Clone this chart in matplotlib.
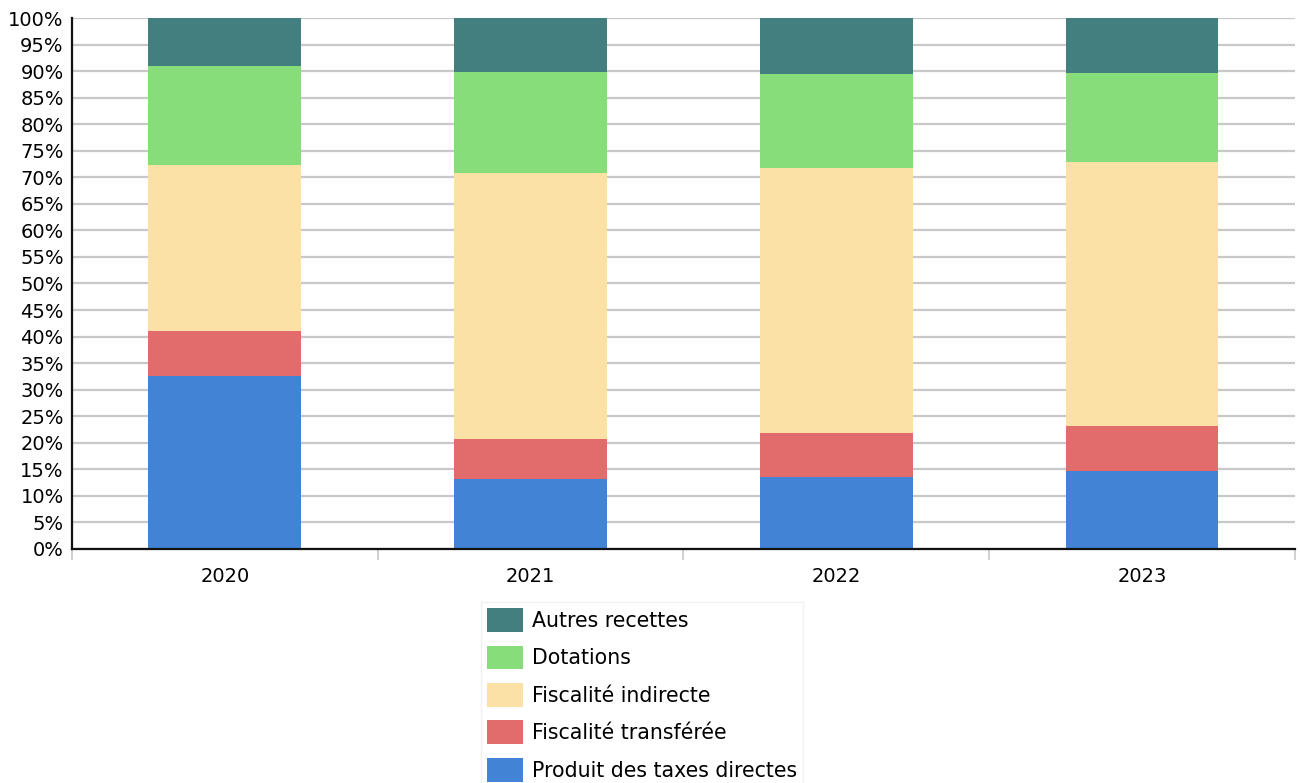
import matplotlib
matplotlib.use("Agg")
import matplotlib.pyplot as plt
import numpy as np
from matplotlib.ticker import FixedLocator

years = ["2020", "2021", "2022", "2023"]
produit_taxes_directes = [32.5, 13.1, 13.6, 14.6]
fiscalite_transferee = [8.5, 7.6, 8.2, 8.5]
fiscalite_indirecte = [31.4, 50.1, 49.9, 49.7]
dotations = [18.5, 19.1, 17.8, 16.9]
autres_recettes = [9.1, 10.1, 10.5, 10.4]

series = [
    ("Produit des taxes directes", produit_taxes_directes, "#4283d6"),
    ("Fiscalité transférée", fiscalite_transferee, "#e26b6b"),
    ("Fiscalité indirecte", fiscalite_indirecte, "#fce1a6"),
    ("Dotations", dotations, "#88dd7b"),
    ("Autres recettes", autres_recettes, "#427f7e"),
]

fig = plt.figure(figsize=(13, 7.83), dpi=100)
ax = fig.add_axes([0.0554, 0.2989, 0.9406, 0.6781])

x = np.arange(len(years))
bottom = np.zeros(len(years))
handles = []
for name, vals, col in series:
    v = np.array(vals, dtype=float)
    h = ax.bar(x, v, width=0.5, bottom=bottom, color=col, label=name, zorder=3)
    handles.append(h)
    bottom += v

ax.set_xlim(-0.5, 3.5)
ax.set_ylim(0, 100)
ax.set_yticks(np.arange(0, 101, 5))
ax.set_yticklabels([f"{v}%" for v in range(0, 101, 5)], fontsize=14)
ax.yaxis.grid(True, color="#c8c8c8", linewidth=1.6, zorder=0)
ax.set_axisbelow(True)
ax.tick_params(axis="y", length=0, pad=6)

ax.set_xticks(x)
ax.set_xticklabels(years, fontsize=14)
ax.xaxis.set_minor_locator(FixedLocator(np.arange(-0.5, 3.6, 1.0)))
ax.tick_params(axis="x", which="major", length=0, pad=13)
ax.tick_params(axis="x", which="minor", length=8, width=1.2, color="#c8c8c8")

for s in ["top", "right"]:
    ax.spines[s].set_visible(False)
for s in ["left", "bottom"]:
    ax.spines[s].set_color("#111111")
    ax.spines[s].set_linewidth(1.6)
    ax.spines[s].set_zorder(4)

leg = fig.legend(handles[::-1], [s[0] for s in series][::-1],
                 loc="upper left", bbox_to_anchor=(0.37, 0.2312),
                 borderaxespad=0.0,
                 fontsize=14.8, frameon=True, fancybox=False,
                 edgecolor="#eeeeee", handlelength=1.75, handleheight=1.41,
                 labelspacing=0.66, borderpad=0.3, handletextpad=0.42)
leg.get_frame().set_linewidth(1.0)

fig.savefig("out.png", dpi=100)
